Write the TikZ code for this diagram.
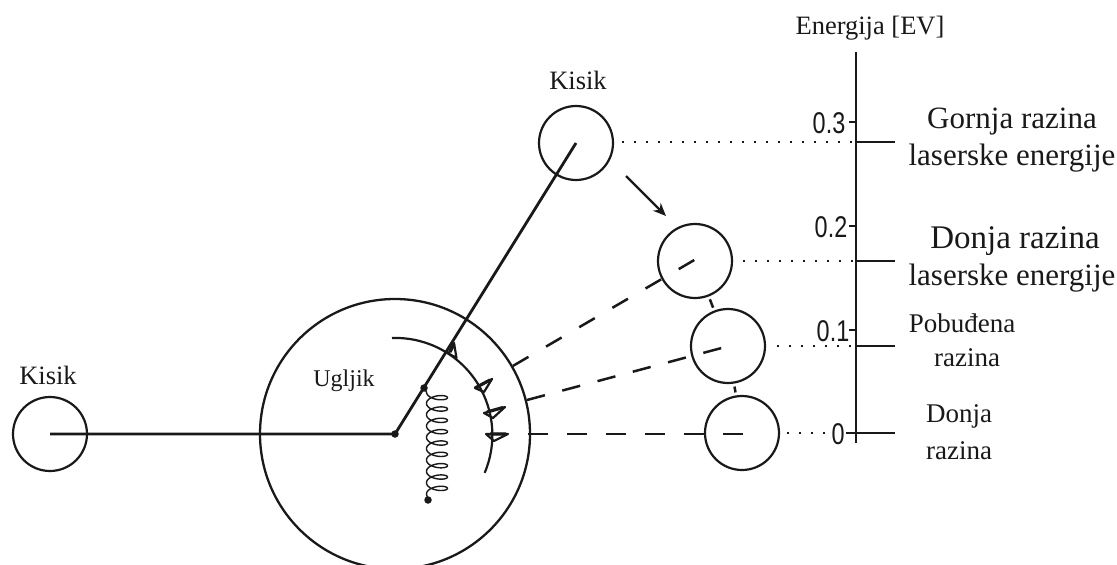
\documentclass[tikz,border=0pt]{standalone}
\usepackage{fontspec}
\usetikzlibrary{arrows.meta}
\setmainfont{Liberation Serif}
\newfontfamily\axisfont{Liberation Sans}
\definecolor{ink}{gray}{0.1}
\tikzset{
  atom/.style={circle,draw=ink,line width=2.2pt,minimum size=74pt,inner sep=0pt},
  bigatom/.style={circle,draw=ink,line width=2.3pt,minimum size=270pt,inner sep=0pt},
  bond/.style={draw=ink,line width=2.8pt},
  dot/.style={circle,fill=ink,minimum size=7.5pt,inner sep=0pt},
  lab/.style={text=ink,font=\fontsize{26.5pt}{28pt}\selectfont,inner sep=0pt},
  biglab/.style={text=ink,font=\fontsize{31pt}{33pt}\selectfont,inner sep=0pt},
  smalllab/.style={text=ink,font=\fontsize{27pt}{29pt}\selectfont,inner sep=0pt},
  num/.style={text=ink,font=\axisfont\fontsize{30pt}{32pt}\selectfont,inner sep=0pt,xscale=.78},
  levelline/.style={draw=ink,line width=2.2pt},
  dotline/.style={draw=ink,line width=2pt,dash pattern=on 2pt off 10pt},
  link/.style={draw=ink,line width=2.5pt},
  tick/.style={draw=ink,line width=2.2pt},
  fin/.style={draw=ink,line width=2.2pt,fill=white,line join=round}
}
\begin{document}
\begin{tikzpicture}[x=1pt,y=-1pt]
\useasboundingbox (0,0) rectangle (1117,565);
\clip (0,0) rectangle (1117,565);
% atoms
\node[bigatom] (big) at (395,434) {};
\node[atom] (kl) at (50,434) {};
\node[atom] (kt) at (576,143) {};
\node[atom] (c2) at (695,261) {};
\node[atom] (c3) at (728,346) {};
\node[atom] (c4) at (742,433) {};
% bonds
\node[dot] (pivot) at (395,434) {};
\node[dot] (coiltop) at (424,388) {};
\node[dot] (coilbot) at (428,500) {};
\coordinate (ktin) at (576,143);
\coordinate (klin) at (50,434);
% fins on the arc
\draw[fin] (448.5,353.5) -- (454,343) -- (456.5,358) -- cycle;
\draw[fin] (475,388) -- (492,379) -- (484,392) -- cycle;
\draw[fin] (484,413) -- (505,407) -- (493,418) -- cycle;
\draw[fin] (486,434) -- (508,434) -- (494,441) -- cycle;
\draw[draw=ink,line width=3.2pt] (475,388) -- (490,380) (487,412) -- (503,407.5) (490,434) -- (506,434) (450,352) -- (454,344);
% inner arc
\draw[draw=ink,line width=2.2pt] (392,338) arc[start angle=-92,end angle=23,radius=97];
\draw[bond] (klin) -- (pivot.center) -- (ktin);
% coil
\draw[draw=ink,line width=1.4pt,line join=round] (coiltop.center) -- plot[domain=180:3420,samples=420]
  ({437+10.5*cos(\x)},{392+(\x-180)*0.0315-4.6*sin(\x)}) -- (coilbot.center);
% dashed radial lines
\coordinate (d1) at (696,259);
\coordinate (s2) at (527,400);
\coordinate (d2) at (729,346);
\coordinate (s3) at (528,434);
\coordinate (d3) at (743,434);
\draw[link,dash pattern=on 18pt off 20.4pt] (big.30) -- (d1);
\draw[link,dash pattern=on 18.5pt off 18pt] (s2) -- (d2);
\draw[link,dash pattern=on 20pt off 19pt] (s3) -- (d3);
% links between the lower atoms
\draw[link,shorten >=3pt,shorten <=3pt] (c2) -- (c3);
\draw[link,shorten >=3pt,shorten <=3pt] (c3) -- (c4);
% motion arrow
\coordinate (ma) at (626,176);
\coordinate (mb) at (666,216);
\draw[draw=ink,line width=2.3pt,-{Stealth[length=13pt,width=11pt]}] (ma) -- (mb);
% axis
\coordinate (axt) at (856,52);
\coordinate (axb) at (856,443);
\draw[draw=ink,line width=2.8pt] (axt) -- (axb);
% levels
\coordinate (l1) at (856,142);
\coordinate (l2) at (856,261);
\coordinate (l3) at (856,346);
\coordinate (l4) at (856,433);
\coordinate (r1) at (895,142);
\coordinate (r2) at (895,261);
\coordinate (r3) at (895,346);
\coordinate (r4) at (895,433);
\draw[levelline,line width=2.8pt] (l1) -- (r1);
\draw[levelline] (l2) -- (r2);
\draw[levelline] (l3) -- (r3);
\draw[levelline] (l4) -- (r4);
\coordinate (e1) at (622,142);
\coordinate (e2) at (743,261);
\coordinate (e3) at (777,346);
\coordinate (e4) at (787,433);
\coordinate (f4) at (826,433);
\draw[dotline] (e1) -- (l1);
\draw[dotline] (e2) -- (l2);
\draw[dotline] (e3) -- (l3);
\draw[dotline] (e4) -- (f4);
% ticks
\coordinate (t1) at (849,122);
\coordinate (t1b) at (856,122);
\coordinate (t2) at (849,226);
\coordinate (t2b) at (856,226);
\coordinate (t3) at (849,330);
\coordinate (t3b) at (856,330);
\coordinate (t4) at (846,433);
\draw[tick] (t1) -- (t1b);
\draw[tick] (t2) -- (t2b);
\draw[tick] (t3) -- (t3b);
\draw[tick] (t4) -- (l4);
% numbers
\node[num] (n3) at (829,123) {0.3};
\node[num] (n2) at (831,227) {0.2};
\node[num] (n1) at (833,331) {0.1};
\node[num] (n0) at (838,434) {0};
% labels
\node[lab] (en) at (870,28) {Energija [EV]};
\node[lab] (ka) at (578,80) {Kisik};
\node[lab] (kb) at (48,375) {Kisik};
\node[lab,font=\fontsize{24pt}{26pt}\selectfont] (ug) at (344,381) {Ugljik};
\node[biglab] (g1) at (1012,122) {Gornja razina};
\node[biglab] (g2) at (1012,158) {laserske energije};
\node[biglab,font=\fontsize{33pt}{35pt}\selectfont] (d1t) at (1015,241) {Donja razina};
\node[biglab] (d2t) at (1012,278) {laserske energije};
\node[smalllab] (p1) at (962,323) {Pobuđena};
\node[smalllab] (p2) at (967,358) {razina};
\node[smalllab] (q1) at (959,416) {Donja};
\node[smalllab] (q2) at (959,451) {razina};
\end{tikzpicture}
\end{document}
